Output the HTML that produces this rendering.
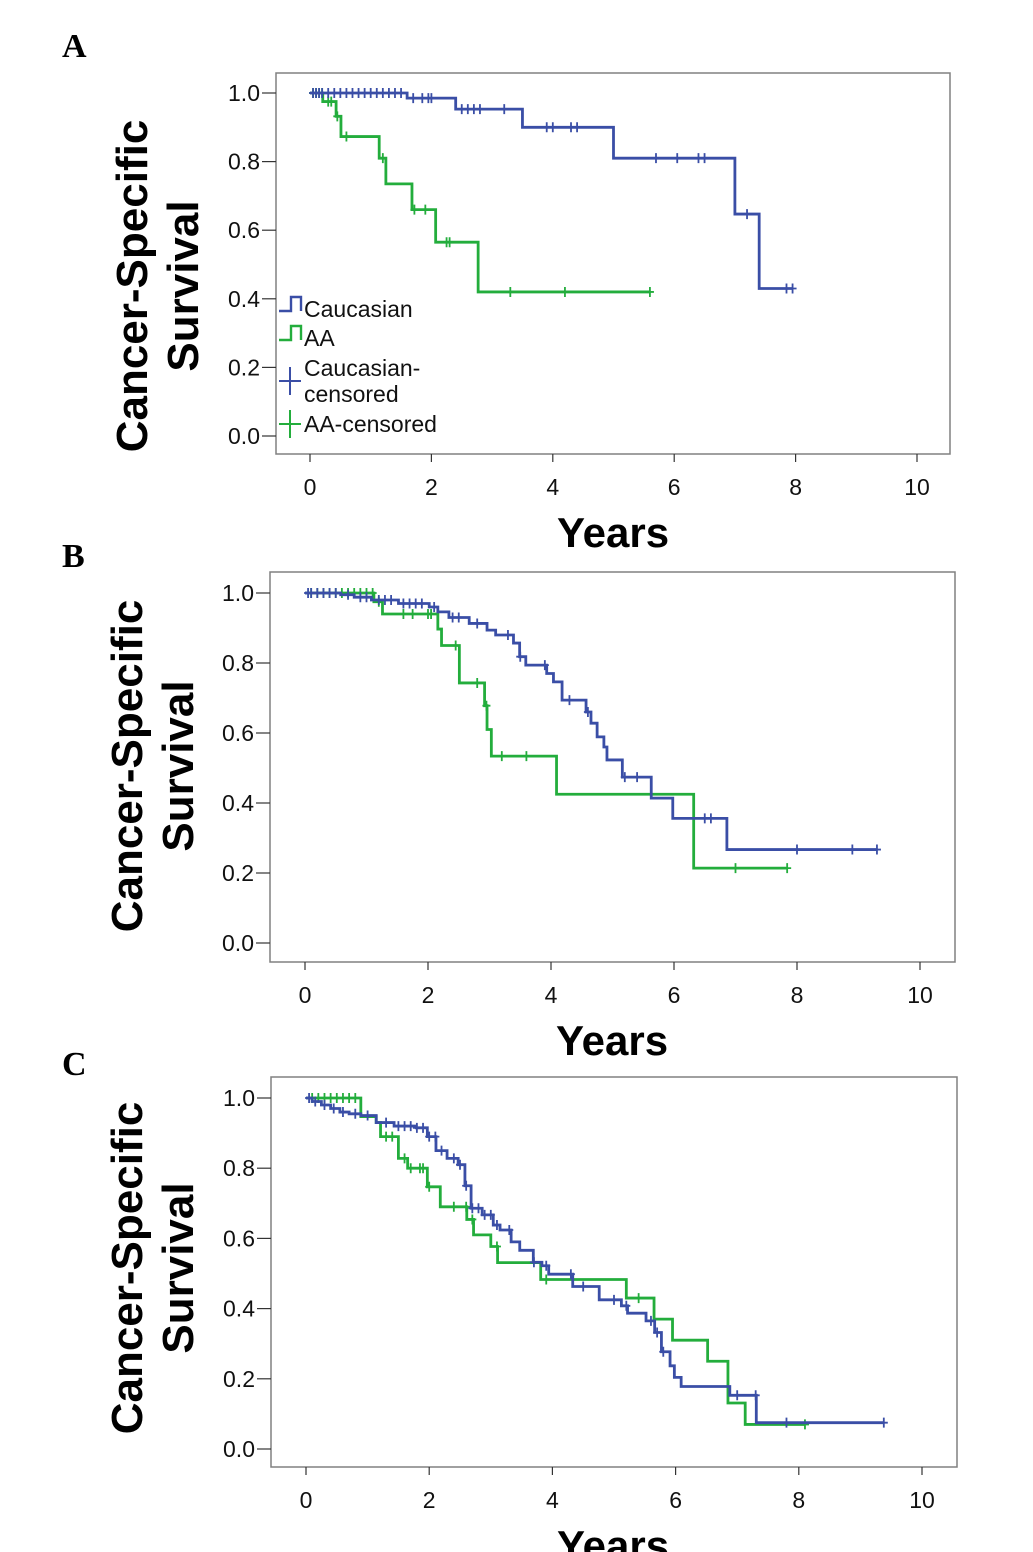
<!DOCTYPE html>
<html><head><meta charset="utf-8">
<style>
html,body{margin:0;padding:0;background:#fff;}
svg{display:block;font-family:"Liberation Sans",sans-serif;}
</style></head>
<body>
<svg id="chart" width="1033" height="1552" viewBox="0 0 1033 1552" xmlns="http://www.w3.org/2000/svg"></svg>
<script>
// ---------- DATA ----------
const xTicks = [0,2,4,6,8,10];
const yTicks = [0.0,0.2,0.4,0.6,0.8,1.0];
const yTickLabels = ["0.0","0.2","0.4","0.6","0.8","1.0"];

// Panel A
const aCauTimes = [1.6,2.4,3.5,5.0,7.0,7.4];
const aCauVals = [0.985,0.953,0.90,0.81,0.647,0.43];
const aCauEnd = 7.95;
const aCauCens = [0.05,0.1,0.15,0.2,0.3,0.4,0.5,0.6,0.7,0.8,0.9,1.0,1.1,1.2,1.3,1.4,1.5,1.7,1.85,1.95,2.0,2.5,2.6,2.7,2.8,3.2,3.9,4.0,4.3,4.4,5.7,6.05,6.4,6.5,7.2,7.85,7.95];
const aAATimes = [0.21,0.43,0.51,1.14,1.25,1.68,2.07,2.77];
const aAAVals = [0.975,0.932,0.873,0.81,0.735,0.66,0.565,0.42];
const aAAEnd = 5.6;
const aAACens = [0.05,0.1,0.15,0.2,0.3,0.35,0.45,0.6,1.2,1.72,1.9,2.25,2.3,3.3,4.2,5.6];

// Panel B
const bCauTimes = [0.58,0.8,1.08,1.52,2.02,2.16,2.34,2.67,2.96,3.1,3.39,3.49,3.59,3.93,4.04,4.18,4.57,4.65,4.75,4.86,4.91,5.16,5.63,5.98,6.86];
const bCauVals = [0.995,0.988,0.98,0.97,0.96,0.946,0.93,0.913,0.894,0.88,0.857,0.818,0.794,0.77,0.746,0.694,0.66,0.628,0.589,0.56,0.523,0.474,0.414,0.356,0.267];
const bCauEnd = 9.3;
const bCauCens = [0.05,0.1,0.2,0.3,0.4,0.5,0.7,0.9,1.0,1.2,1.3,1.4,1.6,1.7,1.8,1.9,2.1,2.4,2.5,2.8,3.3,3.5,3.9,4.3,4.6,5.2,5.4,6.5,6.6,8.0,8.9,9.3];
const bAATimes = [1.12,1.26,2.16,2.22,2.51,2.92,2.96,3.03,4.09,6.32];
const bAAVals = [0.975,0.94,0.897,0.85,0.743,0.678,0.61,0.534,0.425,0.214];
const bAAEnd = 7.84;
const bAACens = [0.1,0.2,0.3,0.4,0.5,0.6,0.7,0.8,0.9,1.0,1.1,1.2,1.6,1.75,2.0,2.05,2.45,2.8,2.95,3.2,3.6,7.0,7.84];

// Panel C
const cCauTimes = [0.1,0.25,0.4,0.55,0.7,0.89,1.14,1.43,1.79,1.97,2.11,2.29,2.47,2.58,2.68,2.86,3.04,3.15,3.33,3.47,3.69,3.83,3.94,4.33,4.76,5.12,5.22,5.52,5.66,5.77,5.91,5.98,6.09,6.88,7.31];
const cCauVals = [0.99,0.98,0.97,0.96,0.955,0.95,0.93,0.92,0.915,0.89,0.85,0.828,0.81,0.75,0.686,0.667,0.638,0.624,0.59,0.566,0.532,0.522,0.498,0.463,0.425,0.408,0.387,0.365,0.332,0.277,0.237,0.204,0.178,0.153,0.075];
const cCauEnd = 9.38;
const cCauCens = [0.05,0.15,0.3,0.45,0.6,0.8,1.0,1.3,1.5,1.6,1.7,1.8,1.9,2.0,2.1,2.2,2.4,2.5,2.6,2.7,2.8,2.9,3.0,3.1,3.3,3.7,3.9,4.3,4.5,5.0,5.2,5.6,5.7,5.8,7.0,7.3,7.8,9.38];
const cAATimes = [0.89,1.14,1.21,1.5,1.65,1.97,2.18,2.61,2.72,3.0,3.11,3.81,5.2,5.65,5.95,6.52,6.85,7.13];
const cAAVals = [0.947,0.93,0.89,0.828,0.80,0.747,0.69,0.654,0.61,0.577,0.531,0.483,0.43,0.37,0.31,0.25,0.131,0.07];
const cAAEnd = 8.1;
const cAACens = [0.1,0.2,0.3,0.4,0.5,0.6,0.7,0.8,1.3,1.4,1.6,1.7,1.85,1.9,2.0,2.4,2.6,2.7,3.1,3.9,5.4,8.1];

// ---------- DRAWING ----------
const svg = document.getElementById('chart');
const NS = 'http://www.w3.org/2000/svg';
const BLUE = '#3a4ea6', GREEN = '#23ad3c';
function mk(tag, attrs, parent, text){
  const e = document.createElementNS(NS, tag);
  for (const k in attrs) e.setAttribute(k, attrs[k]);
  if (text !== undefined) e.textContent = text;
  (parent || svg).appendChild(e);
  return e;
}
function panel(cfg){
  const g = mk('g', {});
  
  
  const sx = t => cfg.x0 + t * cfg.xs;
  const sy = v => cfg.y1 + (1 - v) * cfg.ys;
  const box = mk('rect', {x:cfg.bx, y:cfg.by, width:cfg.bw, height:cfg.bh, fill:'#fff', stroke:'#808080', 'stroke-width':1.5}, g);
  
  
  const lt = mk('text', {x:cfg.lx, y:cfg.ly, 'font-family':'"Liberation Serif",serif', 'font-weight':'bold', 'font-size':34}, g, cfg.letter);
  
  
  yTicks.forEach((v, i) => {
    const y = sy(v);
    mk('line', {x1:cfg.bx - 14, x2:cfg.bx, y1:y, y2:y, stroke:'#333', 'stroke-width':1.2}, g);
    const t = mk('text', {x:cfg.bx - 16, y:y + 8, 'font-size':23, 'text-anchor':'end', fill:'#111'}, g, yTickLabels[i]);
    
    
  });
  xTicks.forEach(v => {
    const x = sx(v);
    mk('line', {x1:x, x2:x, y1:cfg.by + cfg.bh, y2:cfg.by + cfg.bh + 8, stroke:'#333', 'stroke-width':1.2}, g);
    const t = mk('text', {x:x, y:cfg.by + cfg.bh + 41, 'font-size':23, 'text-anchor':'middle', fill:'#111'}, g, String(v));
    
    
  });
  const yt = mk('text', {transform:`translate(${cfg.ytx},${cfg.ytc}) rotate(-90)`, 'font-size':44, 'font-weight':'bold', 'text-anchor':'middle'}, g);
  
  
  mk('tspan', {x:0, y:0}, yt, 'Cancer-Specific');
  mk('tspan', {x:0, y:51}, yt, 'Survival');
  const xt = mk('text', {x:cfg.xtx, y:cfg.by + cfg.bh + 93, 'font-size':42, 'font-weight':'bold', 'text-anchor':'middle'}, g, 'Years');
  
  
  function series(times, vals, end, cens, color, name){
    let d = `M${sx(0)},${sy(1)}`;
    times.forEach((t, i) => { d += ` H${sx(t)} V${sy(vals[i])}`; });
    d += ` H${sx(end)}`;
    const p = mk('path', {d:d, fill:'none', stroke:color, 'stroke-width':2.8}, g);
    
    
    cens.forEach(t => {
      let v = 1;
      times.forEach((tt, i) => { if (tt <= t) v = vals[i]; });
      const x = sx(t), y = sy(v);
      const c = mk('path', {d:`M${x},${y-5} V${y+5} M${x-4},${y} H${x+4}`, stroke:color, 'stroke-width':1.8}, g);
      
      
    });
  }
  series(cfg.aaT, cfg.aaV, cfg.aaE, cfg.aaC, GREEN, 'aa');
  series(cfg.cT, cfg.cV, cfg.cE, cfg.cC, BLUE, 'caucasian');
  return g;
}
const gA = panel({letter:'A', lx:62, ly:57, bx:276, by:73, bw:674, bh:381, x0:310, xs:60.7, y1:93, ys:343, ytx:147, ytc:286, xtx:613,
  cT:aCauTimes, cV:aCauVals, cE:aCauEnd, cC:aCauCens, aaT:aAATimes, aaV:aAAVals, aaE:aAAEnd, aaC:aAACens});
panel({letter:'B', lx:62, ly:567, bx:270, by:572, bw:685, bh:390, x0:305, xs:61.5, y1:593, ys:350, ytx:142, ytc:766, xtx:612,
  cT:bCauTimes, cV:bCauVals, cE:bCauEnd, cC:bCauCens, aaT:bAATimes, aaV:bAAVals, aaE:bAAEnd, aaC:bAACens});
panel({letter:'C', lx:62, ly:1075, bx:271, by:1077, bw:686, bh:390, x0:306, xs:61.6, y1:1098, ys:351, ytx:142, ytc:1268, xtx:613,
  cT:cCauTimes, cV:cCauVals, cE:cCauEnd, cC:cCauCens, aaT:cAATimes, aaV:cAAVals, aaE:cAAEnd, aaC:cAACens});

// legend in panel A
const lg = mk('g', {}, gA);


function legendEntry(y, color, type, lines){
  const e = mk('g', {}, lg);
  
  
  if (type === 'step') {
    mk('path', {d:`M279,${y+2} H291 V${y-12} H301 V${y+2}`, fill:'none', stroke:color, 'stroke-width':2.4}, e);
  } else {
    mk('path', {d:`M290,${y-14} V${y+14} M279,${y} H301`, stroke:color, 'stroke-width':2}, e);
  }
  lines.forEach((s, i) => mk('text', {x:304, y:y + 8 + i * 26 - (lines.length > 1 ? 13 : 0), 'font-size':23, fill:'#111'}, e, s));
}
legendEntry(309, BLUE, 'step', ['Caucasian']);
legendEntry(338, GREEN, 'step', ['AA']);
legendEntry(381, BLUE, 'cross', ['Caucasian-', 'censored']);
legendEntry(424, GREEN, 'cross', ['AA-censored']);
</script>
</body></html>
